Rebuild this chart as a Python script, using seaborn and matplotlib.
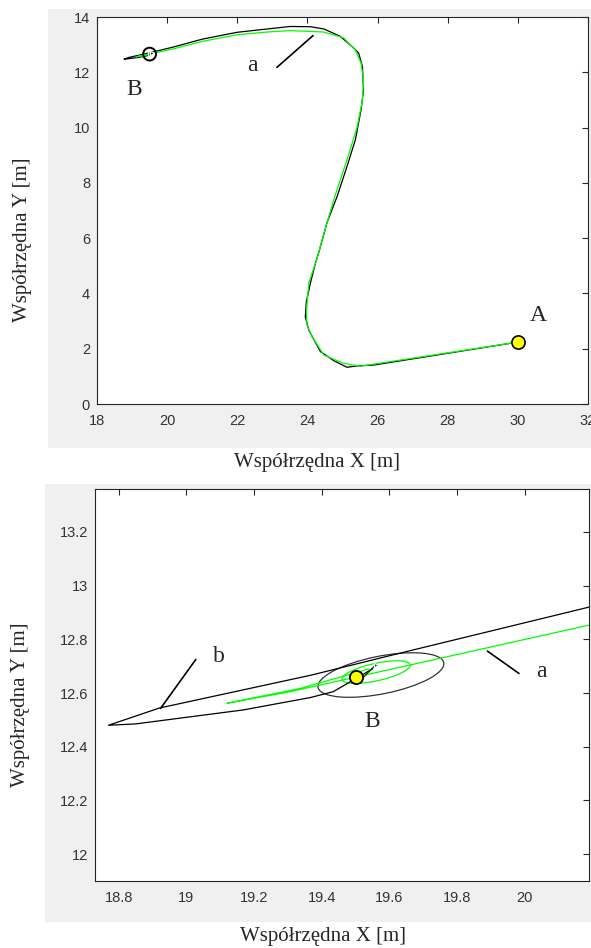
"""Robot path A -> B: full view and zoom on the target point."""

import matplotlib
matplotlib.use("Agg")
import matplotlib.pyplot as plt
from matplotlib.patches import Ellipse, Rectangle
from matplotlib.ticker import FormatStrFormatter
import pandas as pd
import seaborn as sns


# estimated path (black), A -> overshoot tip -> back to B
est_x = [30.0, 25.89, 25.42, 25.13, 24.75, 24.37, 24.04, 23.94, 23.97, 24.09, 24.23,
         24.35, 24.56, 24.85, 25.13, 25.37, 25.53, 25.6, 25.57, 25.46, 25.32, 24.94,
         24.47, 24.09, 23.51, 22.86, 22.0, 21.0, 20.19, 19.62, 19.37, 18.92, 18.77,
         18.85, 19.168, 19.366, 19.434, 19.55]
est_y = [2.24, 1.41, 1.38, 1.33, 1.57, 1.9, 2.67, 3.16, 3.7, 4.4, 5.1,
         5.6, 6.57, 7.52, 8.6, 9.57, 10.65, 11.37, 12.2, 12.7, 12.88, 13.3,
         13.57, 13.65, 13.66, 13.57, 13.45, 13.2, 12.92, 12.745, 12.667, 12.544, 12.48,
         12.485, 12.537, 12.583, 12.605, 12.69]

# reference path (green)
ref_x = [30.0, 25.51, 25.04, 24.47, 24.13, 23.99, 23.97, 24.04, 24.28, 24.42, 24.75,
         25.13, 25.42, 25.57, 25.6, 25.53, 25.37, 25.03, 24.46, 23.51, 22.86,
         22.0, 21.0, 20.19, 19.307, 19.12, 19.336, 19.54]
ref_y = [2.24, 1.37, 1.47, 1.77, 2.45, 2.85, 3.3, 4.39, 5.28, 5.95, 7.39,
         8.84, 10.03, 11.0, 11.72, 12.33, 12.8, 13.25, 13.46, 13.51, 13.46,
         13.36, 13.12, 12.853, 12.605, 12.562, 12.617, 12.69]

# final heading of the robot
head_x = [19.52, 19.56]
head_y = [12.655, 12.705]

start_x, start_y = [30.0], [2.24]
goal_x, goal_y = [19.5], [12.66]

# uncertainty ellipses at B: estimated (black) and reference (green)
ell_cx = [19.575, 19.561]
ell_cy = [12.667, 12.678]
ell_w = [0.383, 0.209]
ell_h = [0.139, 0.064]
ell_ang = [14.7, 16.0]

top_xticks = [18, 20, 22, 24, 26, 28, 30, 32]
top_yticks = [0, 2, 4, 6, 8, 10, 12, 14]
bot_xticks = [18.8, 19.0, 19.2, 19.4, 19.6, 19.8, 20.0]
bot_yticks = [12.0, 12.2, 12.4, 12.6, 12.8, 13.0, 13.2]

GREEN = "#00ff00"
SERIF = "Liberation Serif"
XLABEL = "Współrzędna X [m]"
YLABEL = "Współrzędna Y [m]"


def style_axes(ax, xticks, yticks, xlim, ylim) -> None:
    ax.set_xlim(*xlim)
    ax.set_ylim(*ylim)
    ax.set_xticks(xticks)
    ax.set_yticks(yticks)
    ax.xaxis.set_major_formatter(FormatStrFormatter("%g"))
    ax.yaxis.set_major_formatter(FormatStrFormatter("%g"))
    ax.tick_params(direction="in", top=True, right=True, length=4, width=0.8,
                   color="#262626", labelcolor="#333333", labelsize=10.5)
    ax.tick_params(axis="x", pad=7)
    ax.tick_params(axis="y", pad=5)
    for sp in ax.spines.values():
        sp.set_visible(True)
        sp.set_color("#262626")
        sp.set_linewidth(0.8)
    ax.set_xlabel("")
    ax.set_ylabel("")
    ax.set_facecolor("white")
    ax.grid(False)


def draw_paths(ax) -> None:
    est = pd.DataFrame({"x": est_x, "y": est_y})
    ref = pd.DataFrame({"x": ref_x, "y": ref_y})
    sns.lineplot(data=est, x="x", y="y", sort=False, estimator=None, color="black", lw=0.9, ax=ax)
    sns.lineplot(data=ref, x="x", y="y", sort=False, estimator=None, color=GREEN, lw=0.9, ax=ax)
    sns.lineplot(x=head_x, y=head_y, sort=False, estimator=None, color="#0b3d0b", lw=1.0,
                 marker=">", markersize=3, ax=ax)


def main() -> None:
    sns.set_theme(style="white")
    plt.rcParams["font.family"] = ["Liberation Sans", "DejaVu Sans"]

    fig = plt.figure(figsize=(5.91, 9.48), dpi=100)
    fig.patch.set_facecolor("white")
    fig.add_artist(Rectangle((0.0812, 0.5274), 0.93, 0.4631, transform=fig.transFigure,
                             facecolor="#f0f0f0", edgecolor="none", zorder=0))
    fig.add_artist(Rectangle((0.0761, 0.0274), 0.93, 0.4620, transform=fig.transFigure,
                             facecolor="#f0f0f0", edgecolor="none", zorder=0))

    # full path
    ax1 = fig.add_axes([0.1641, 0.5738, 0.8308, 0.4082])
    draw_paths(ax1)
    sns.scatterplot(x=goal_x, y=goal_y, s=85, facecolors="none", edgecolor="black",
                    linewidth=1.4, zorder=5, ax=ax1)
    sns.scatterplot(x=start_x, y=start_y, s=90, color="#ffff00", edgecolor="black",
                    linewidth=1.2, zorder=5, ax=ax1)
    ax1.plot([23.13, 24.16], [12.18, 13.33], color="black", lw=1.2)
    ax1.text(22.42, 12.24, "a", family=SERIF, size=17, ha="center", va="center")
    ax1.text(19.07, 11.38, "B", family=SERIF, size=17, ha="center", va="center")
    ax1.text(30.58, 3.19, "A", family=SERIF, size=17, ha="center", va="center")
    style_axes(ax1, top_xticks, top_yticks, (18, 32), (0, 14))

    # zoom on B
    ax2 = fig.add_axes([0.1607, 0.0707, 0.8359, 0.4135])
    draw_paths(ax2)
    for cx, cy, w, h, ang, col in zip(ell_cx, ell_cy, ell_w, ell_h, ell_ang, ["#333333", GREEN]):
        ax2.add_patch(Ellipse((cx, cy), w, h, angle=ang, facecolor="none", edgecolor=col, lw=0.9))
    sns.scatterplot(x=goal_x, y=goal_y, s=90, color="#ffff00", edgecolor="black",
                    linewidth=1.3, zorder=5, ax=ax2)
    ax2.plot([18.924, 19.028], [12.543, 12.725], color="black", lw=1.2)
    ax2.plot([19.89, 19.983], [12.756, 12.673], color="black", lw=1.2)
    ax2.text(19.097, 12.735, "b", family=SERIF, size=17, ha="center", va="center")
    ax2.text(20.05, 12.68, "a", family=SERIF, size=17, ha="center", va="center")
    ax2.text(19.549, 12.493, "B", family=SERIF, size=17, ha="center", va="center")
    style_axes(ax2, bot_xticks, bot_yticks, (18.73, 20.19), (11.90, 13.36))

    fig.text(317.5 / 591, 1 - 463 / 948, XLABEL, family=SERIF, size=15, ha="center", va="center")
    fig.text(23 / 591, 1 - 240 / 948, YLABEL, family=SERIF, size=15, ha="center", va="center",
             rotation=90)
    fig.text(323.5 / 591, 1 - 937 / 948, XLABEL, family=SERIF, size=15, ha="center", va="center")
    fig.text(21 / 591, 1 - 705 / 948, YLABEL, family=SERIF, size=15, ha="center", va="center",
             rotation=90)

    fig.savefig("out.png", dpi=100, facecolor="white")
    plt.close(fig)


if __name__ == "__main__":
    main()
